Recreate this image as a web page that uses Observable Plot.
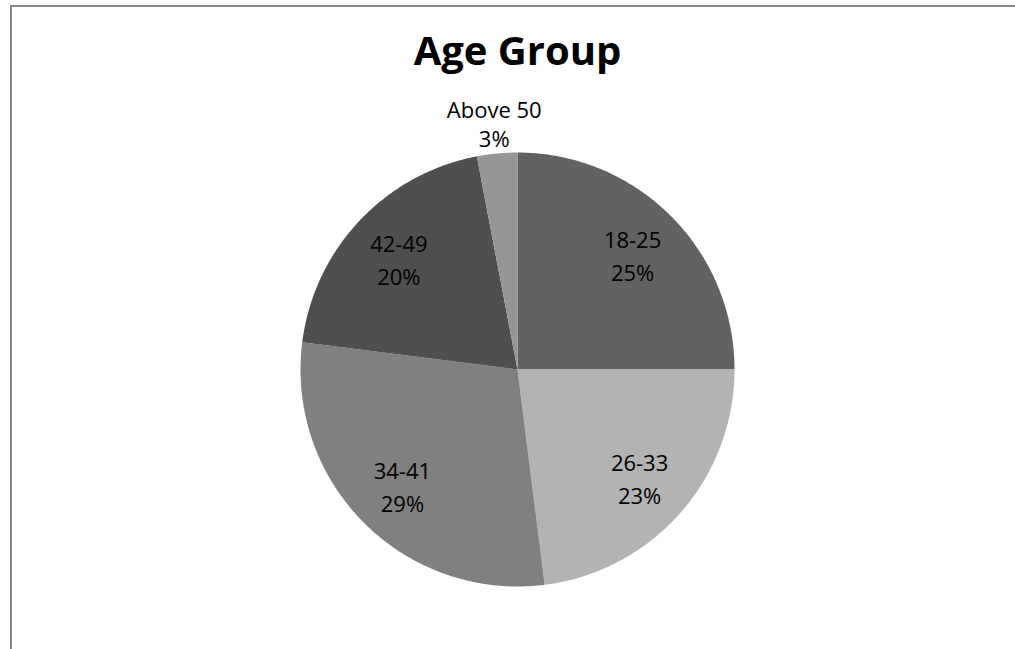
<!DOCTYPE html>
<html><head><meta charset="utf-8">
<script src="https://cdn.jsdelivr.net/npm/d3@7"></script>
<script src="https://cdn.jsdelivr.net/npm/@observablehq/plot@0.6"></script>
<style>
html,body{margin:0;padding:0;background:#fff;overflow:hidden;}
#wrap{position:relative;width:1015px;height:649px;overflow:hidden;font-family:"Open Sans",sans-serif;background:#fff;}
#frame{position:absolute;left:10px;top:5px;width:1010px;height:700px;border-top:2px solid #888;border-left:2px solid #888;}
#title{position:absolute;left:0;width:1035px;top:28px;text-align:center;font-weight:bold;font-size:40px;line-height:44px;color:#000;}
#chart{position:absolute;left:0;top:0;}
</style>
</head><body>
<div id="wrap"><div id="frame"></div><div id="chart"></div><div id="title">Age Group</div></div>
<script>
const categories = ["18-25", "26-33", "34-41", "42-49", "Above 50"];
const shares = [25, 23, 29, 20, 3];
const colors = ["#626262", "#b3b3b3", "#808080", "#4f4f4f", "#969696"];

const rows = categories.map((c, i) => ({cat: c, value: shares[i]}));
const total = d3.sum(shares);
const arcs = d3.pie().sort(null).value(d => d.value).startAngle(0).endAngle(2 * Math.PI)(rows);

const poly = [];
for (const a of arcs) {
  poly.push({cat: a.data.cat, x: 0, y: 0});
  const n = Math.max(2, Math.ceil((a.endAngle - a.startAngle) / (Math.PI / 360)));
  for (let k = 0; k <= n; k++) {
    const t = a.startAngle + (a.endAngle - a.startAngle) * k / n;
    poly.push({cat: a.data.cat, x: Math.sin(t), y: Math.cos(t)});
  }
  poly.push({cat: a.data.cat, x: 0, y: 0});
}

const labels = arcs.map(a => {
  const m = (a.startAngle + a.endAngle) / 2;
  const share = a.data.value / total;
  const inside = share >= 0.05;
  const r = inside ? 0.75 : 1.14;
  return {cat: a.data.cat, inside, x: r * Math.sin(m), y: r * Math.cos(m),
          text: `${a.data.cat}\n${Math.round(share * 100)}%`};
});

const cx = 517, cy = 369, R = 217;
const chart = Plot.plot({
  width: 1015, height: 649,
  margin: 0,
  x: {domain: [-1, 1], range: [cx - R, cx + R], axis: null},
  y: {domain: [-1, 1], range: [cy + R, cy - R], axis: null},
  color: {domain: categories, range: colors},
  style: {fontFamily: "Open Sans, sans-serif", background: "transparent"},
  marks: [
    Plot.line(poly, {x: "x", y: "y", z: "cat", fill: "cat", stroke: null, curve: "linear"}),
    Plot.text(labels.filter(d => d.inside), {x: "x", y: "y", text: "text", fontSize: 22, lineHeight: 1.5, fill: "#000"}),
    Plot.text(labels.filter(d => !d.inside), {x: "x", y: "y", text: "text", fontSize: 22, lineHeight: 1.3, fill: "#000"})
  ]
});
document.getElementById("chart").appendChild(chart);
</script>
</body></html>
